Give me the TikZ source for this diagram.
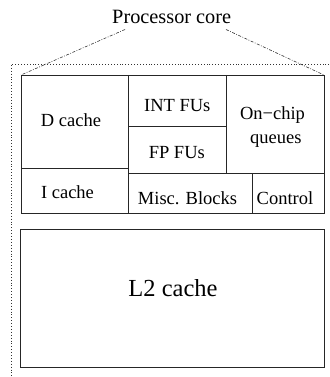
\documentclass[tikz,border=0pt]{standalone}
\usepackage{fontspec}
\setmainfont{Liberation Serif}
\begin{document}
\begin{tikzpicture}[x=1pt,y=-1pt,
  blk/.style={draw=black!85, line width=0.9pt},
  lbl/.style={anchor=base, inner sep=0pt, font=\fontsize{18.5}{22}\selectfont},
  title/.style={anchor=base, inner sep=0pt, font=\fontsize{20.3}{24}\selectfont},
  big/.style={anchor=base, inner sep=0pt, font=\fontsize{24.5}{29}\selectfont},
  zoomline/.style={draw=black!80, line width=0.6pt, dash pattern=on 3pt off 1.5pt on 0.8pt off 1.5pt},
  outline/.style={draw=black!80, line width=0.7pt, dash pattern=on 0.7pt off 2.2pt}]
\useasboundingbox (0,0) rectangle (329,377);

% chip outline (continues beyond the visible area)
\draw[outline] (329,64) -- (11,64) -- (11,377);

% processor core floorplan
\draw[blk] (21,75) rectangle (324,213.5);
\draw[blk] (128.7,75) -- (128.7,213.5);
\draw[blk] (21,168.3) -- (128.7,168.3);
\draw[blk] (128.7,126.7) -- (226,126.7);
\draw[blk] (128.7,173.3) -- (324,173.3);
\draw[blk] (226,75) -- (226,173.3);
\draw[blk] (252,173.3) -- (252,213.5);

% L2 cache
\draw[blk] (20.7,229.3) rectangle (324,367.7);

% labels
\node[lbl] (dcache) at (71,126.7) {D cache};
\node[lbl] (icache) at (67.5,198.3) {I cache};
\node[lbl] (intfu) at (177.3,111.7) {INT FUs};
\node[lbl] (fpfu) at (176.8,158.3) {FP FUs};
\node[lbl] (onchip) at (272.5,119.3) {On{\char"2212}chip};
\node[lbl] (queues) at (275.8,143.5) {queues};
\node[lbl] (misc) at (187.5,204.3) {Misc. Blocks};
\node[lbl] (ctrl) at (285,204.3) {Control};
\node[big] (l2) at (173,296.7) {L2 cache};
\node[title] (core) at (171.7,23.3) {Processor core};

% zoom lines from the title to the core corners
\coordinate (tl) at (125,29.5);
\coordinate (tr) at (226,29.5);
\coordinate (cnw) at (21,75);
\coordinate (cne) at (324,75);
\draw[zoomline] (tl) -- (cnw);
\draw[zoomline] (tr) -- (cne);
\end{tikzpicture}
\end{document}
